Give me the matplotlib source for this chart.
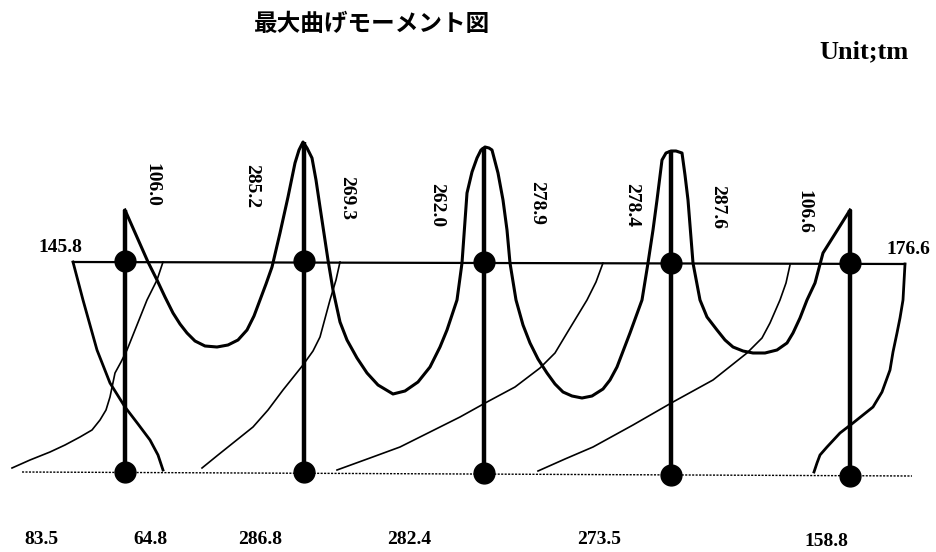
import matplotlib
matplotlib.use("Agg")
import matplotlib.pyplot as plt

# Frame geometry in drawing units (x to the right, y downwards)
col_x = [125, 304, 484, 671, 850]
col_top = [210, 142, 147, 150, 210]
upper_y = [261, 261, 262, 263, 263]
lower_y = [472, 472, 473, 475, 476]
upper_beam_x = [73, 905]
upper_beam_y = [262, 264]
lower_beam_x = [22, 912]
lower_beam_y = [472, 476]

# Upper girder moment curve (spans 1-4)
upper_mx = [125, 148, 157, 165, 173, 180, 187, 195, 205, 217, 228, 238, 247, 254, 260, 266, 272,
            280, 288, 295, 299, 303,
            307, 312, 316, 320, 328, 333, 340, 347, 357, 367, 378, 393, 405, 418, 430, 440, 447,
            457, 462, 467, 472, 477, 481, 485,
            489, 492, 498, 503, 507, 510, 516, 523, 530, 538, 547, 555, 563, 572, 582, 592, 603,
            610, 617, 630, 642, 648, 653, 657, 662, 666, 671,
            676, 682, 685, 688, 693, 700, 707, 717, 725, 733, 743, 753, 765, 777, 787, 793, 800,
            807, 815, 823, 850]
upper_my = [210, 262, 280, 297, 313, 324, 333, 341, 346, 347, 345, 340, 330, 316, 300, 284, 267,
            233, 197, 163, 150, 142,
            148, 158, 180, 207, 260, 290, 322, 340, 358, 373, 385, 394, 391, 382, 367, 347, 330,
            300, 263, 193, 172, 158, 150, 147,
            148, 150, 173, 200, 230, 263, 300, 325, 343, 359, 373, 384, 392, 396, 398, 396, 389,
            380, 367, 333, 300, 263, 230, 200, 160, 153, 151,
            151, 153, 175, 200, 263, 300, 317, 330, 340, 347, 351, 353, 353, 350, 343, 333, 318,
            300, 283, 253, 210]

# End span curves
left_end_x = [73, 83, 97, 110, 125, 138, 150, 158, 163]
left_end_y = [262, 300, 350, 383, 407, 424, 440, 455, 470]
right_end_x = [905, 903, 900, 897, 893, 890, 882, 873, 853, 840, 827, 820, 817, 814]
right_end_y = [264, 300, 318, 333, 352, 370, 392, 407, 423, 433, 447, 455, 463, 472]

# Lower girder curves
lower_curves_x = [
    [12, 30, 50, 65, 80, 92, 100, 106, 110, 115, 121, 127, 137, 147, 157, 163],
    [202, 218, 233, 253, 268, 283, 303, 313, 320, 330, 336, 340],
    [337, 370, 400, 430, 460, 487, 515, 540, 555, 567, 587, 596, 603],
    [538, 565, 593, 633, 673, 713, 747, 762, 770, 780, 786, 790],
]
lower_curves_y = [
    [468, 460, 452, 445, 437, 430, 420, 410, 397, 373, 362, 350, 325, 300, 280, 262],
    [468, 455, 443, 427, 410, 390, 365, 351, 337, 300, 280, 262],
    [470, 458, 447, 432, 417, 402, 387, 368, 353, 333, 300, 282, 263],
    [471, 459, 447, 425, 402, 380, 353, 338, 323, 300, 283, 265],
]

# Moment values
peak_labels = ["106.0", "285.2", "269.3", "262.0", "278.9", "278.4", "287.6", "106.6"]
peak_lx = [152, 252, 347, 437, 537, 632, 718, 804]
peak_ly = [185, 186, 198, 205, 203, 205, 207, 212]
end_labels = ["145.8", "176.6"]
end_lx = [60, 908]
end_ly = [248, 250]
bottom_labels = ["83.5", "64.8", "286.8", "282.4", "273.5", "158.8"]
bottom_lx = [41, 150, 260, 409, 599, 826]
bottom_ly = [540, 540, 540, 540, 540, 542]

fig = plt.figure(figsize=(9.37, 5.52), dpi=100)
ax = fig.add_axes([0, 0, 1, 1])
ax.set_xlim(0, 937)
ax.set_ylim(552, 0)
ax.axis("off")

# beams
ax.plot(upper_beam_x, upper_beam_y, color="black", lw=1.6)
ax.plot(lower_beam_x, lower_beam_y, color="black", lw=1.0, ls=(0, (1.5, 1)))

# columns
for x, top, bot in zip(col_x, col_top, lower_y):
    ax.plot([x, x], [top, bot], color="black", lw=3.2, solid_capstyle="butt")

# moment curves
ax.plot(upper_mx, upper_my, color="black", lw=2.2, solid_joinstyle="round")
ax.plot(left_end_x, left_end_y, color="black", lw=2.0)
ax.plot(right_end_x, right_end_y, color="black", lw=2.0)
for xs, ys in zip(lower_curves_x, lower_curves_y):
    ax.plot(xs, ys, color="black", lw=1.2)

# joints
ax.plot(col_x, upper_y, "o", color="black", ms=15, zorder=5)
ax.plot(col_x, lower_y, "o", color="black", ms=15, zorder=5)

num_font = dict(family="Liberation Serif", weight="bold", fontsize=14, color="black")
for s, x, y in zip(peak_labels, peak_lx, peak_ly):
    ax.text(x, y, s, rotation=-90, ha="center", va="center", **num_font)
for s, x, y in zip(end_labels, end_lx, end_ly):
    ax.text(x, y, s, ha="center", va="center", **num_font)
for s, x, y in zip(bottom_labels, bottom_lx, bottom_ly):
    ax.text(x, y, s, ha="center", va="center", **num_font)

ax.text(372, 24, "最大曲げモーメント図", ha="center", va="center", fontsize=17,
        family=["Noto Sans CJK JP", "DejaVu Sans"], weight="bold")
ax.text(864, 52, "Unit;tm", ha="center", va="center", family="Liberation Serif",
        weight="bold", fontsize=19)

fig.savefig("out.png", dpi=100)
